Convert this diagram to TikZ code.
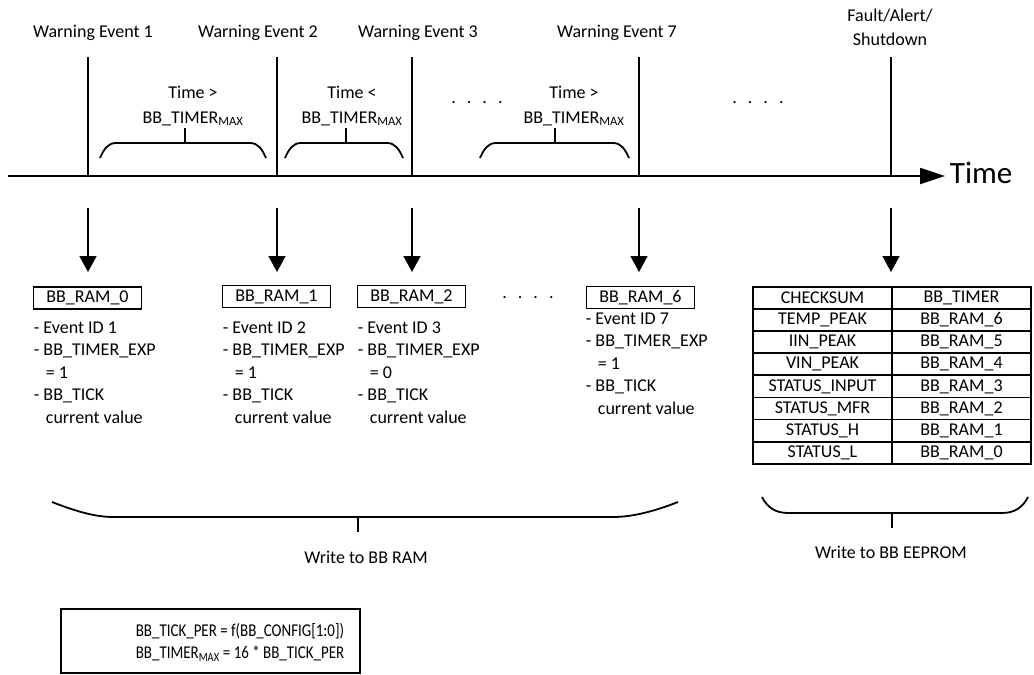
\documentclass[tikz,border=0pt]{standalone}
\usepackage{fontspec}
\setmainfont{Carlito}
\usetikzlibrary{arrows.meta}

\tikzset{
  ramlbl/.style={draw, inner sep=0pt, minimum width=108pt, minimum height=22pt},
  cell/.style={draw, inner sep=0pt, minimum width=139pt, minimum height=22.1pt},
  fieldlist/.style={anchor=north west, align=left, inner sep=0pt,
    font=\fontsize{18}{22.4}\selectfont},
  gap/.style={align=center, inner sep=0pt, font=\fontsize{18}{25}\selectfont},
  dotrow/.style={inner sep=0pt}
}
\newcommand{\dotsep}{.\hspace{11pt}.\hspace{11pt}.\hspace{11pt}.}
\newcommand{\ind}{\hspace*{12pt}}

\begin{document}
\begin{tikzpicture}[x=1pt, y=-1pt, line width=1.8pt, >={Triangle[width=17pt,length=16pt]},
    font=\fontsize{18}{22}\selectfont]
    \useasboundingbox (0,0) rectangle (1034,675);

    % time axis
    \coordinate (t0) at (8,176);
    \coordinate (t1) at (945,176);
    \draw[-{Triangle[width=16pt,length=25pt]}] (t0) -- (t1);
    \node[anchor=west, inner sep=0pt, font=\fontsize{31}{31}\selectfont] (tlbl) at (949,173) {Time};

    % events
    \foreach \x in {88,277,412,639,891}
        \draw (\x,57) -- (\x,176);
    \node (w1) at (93,33) {Warning Event 1};
    \node (w2) at (258,33) {Warning Event 2};
    \node (w3) at (418,33) {Warning Event 3};
    \node (w7) at (617,33) {Warning Event 7};
    \node[gap, font=\fontsize{18}{24}\selectfont] (flt) at (890,27) {Fault/Alert/\\Shutdown};

    % gaps between events
    \foreach \a/\b/\m in {100/266/185, 285/403/346, 480/629/555} {
        \draw (\a,158) .. controls (\a+4,149) and (\a+8,143) .. (\a+16,143) -- (\b-16,143)
            .. controls (\b-8,143) and (\b-4,149) .. (\b,158);
        \draw (\m,143) -- (\m,128);
    }
    \node[gap] (g1) at (193,106) {Time >\\BB\_TIMER\textsubscript{MAX}};
    \node[gap] (g2) at (352,106) {Time <\\BB\_TIMER\textsubscript{MAX}};
    \node[gap] (g3) at (574,106) {Time >\\BB\_TIMER\textsubscript{MAX}};
    \node[dotrow] (d1) at (477,103) {\dotsep};
    \node[dotrow] (d2) at (758,103) {\dotsep};

    % arrows down
    \foreach \x [count=\i] in {88,277,412,639,891} {
        \coordinate (s\i) at (\x,208);
        \coordinate (e\i) at (\x,272);
        \draw[->] (s\i) -- (e\i);
    }

    % RAM entries
    \node[ramlbl] (ram0) at (87.5,298) {BB\_RAM\_0};
    \node[ramlbl] (ram1) at (276.5,296.5) {BB\_RAM\_1};
    \node[ramlbl] (ram2) at (411.5,296.5) {BB\_RAM\_2};
    \node[ramlbl] (ram6) at (640.5,297.5) {BB\_RAM\_6};
    \node[dotrow] (d3) at (528,298) {\dotsep};

    \node[fieldlist] (f0) at (33,321) {- Event ID 1\\- BB\_TIMER\_EXP\\\ind= 1\\- BB\_TICK\\\ind current value};
    \node[fieldlist] (f1) at (222,321) {- Event ID 2\\- BB\_TIMER\_EXP\\\ind= 1\\- BB\_TICK\\\ind current value};
    \node[fieldlist] (f2) at (357,321) {- Event ID 3\\- BB\_TIMER\_EXP\\\ind= 0\\- BB\_TICK\\\ind current value};
    \node[fieldlist] (f6) at (585,312) {- Event ID 7\\- BB\_TIMER\_EXP\\\ind= 1\\- BB\_TICK\\\ind current value};

    % EEPROM table
    \foreach \l/\r [count=\i from 0] in {CHECKSUM/BB\_TIMER, TEMP\_PEAK/BB\_RAM\_6,
        IIN\_PEAK/BB\_RAM\_5, VIN\_PEAK/BB\_RAM\_4, STATUS\_INPUT/BB\_RAM\_3,
        STATUS\_MFR/BB\_RAM\_2, STATUS\_H/BB\_RAM\_1, STATUS\_L/BB\_RAM\_0} {
        \node[cell] (l\i) at (822.5,298+22.1*\i) {\l};
        \node[cell] (r\i) at (961.5,298+22.1*\i) {\r};
    }

    % write groups
    \draw (52,502) .. controls (75,511) and (95,517) .. (113,517) -- (613,517)
        .. controls (633,517) and (655,511) .. (678,502);
    \draw (358,517) -- (358,532);
    \node (wram) at (366,557) {Write to BB RAM};

    \draw (762,497) .. controls (767,507) and (775,513) .. (788,513) -- (1002,513)
        .. controls (1015,513) and (1023,507) .. (1028,497);
    \draw (892,513) -- (892,528);
    \node (weep) at (891,552) {Write to BB EEPROM};

    % config note
    \node[draw, inner sep=0pt, minimum width=299pt, minimum height=64pt] (cfg) at (210.5,641) {};
    \node[inner sep=0pt] (cfgtxt) at (240,643)
        {\scalebox{0.83}[1]{\begin{tabular}{@{}c@{}}BB\_TICK\_PER = f(BB\_CONFIG[1:0])\\
        BB\_TIMER\textsubscript{MAX} = 16 * BB\_TICK\_PER\end{tabular}}};
\end{tikzpicture}
\end{document}
